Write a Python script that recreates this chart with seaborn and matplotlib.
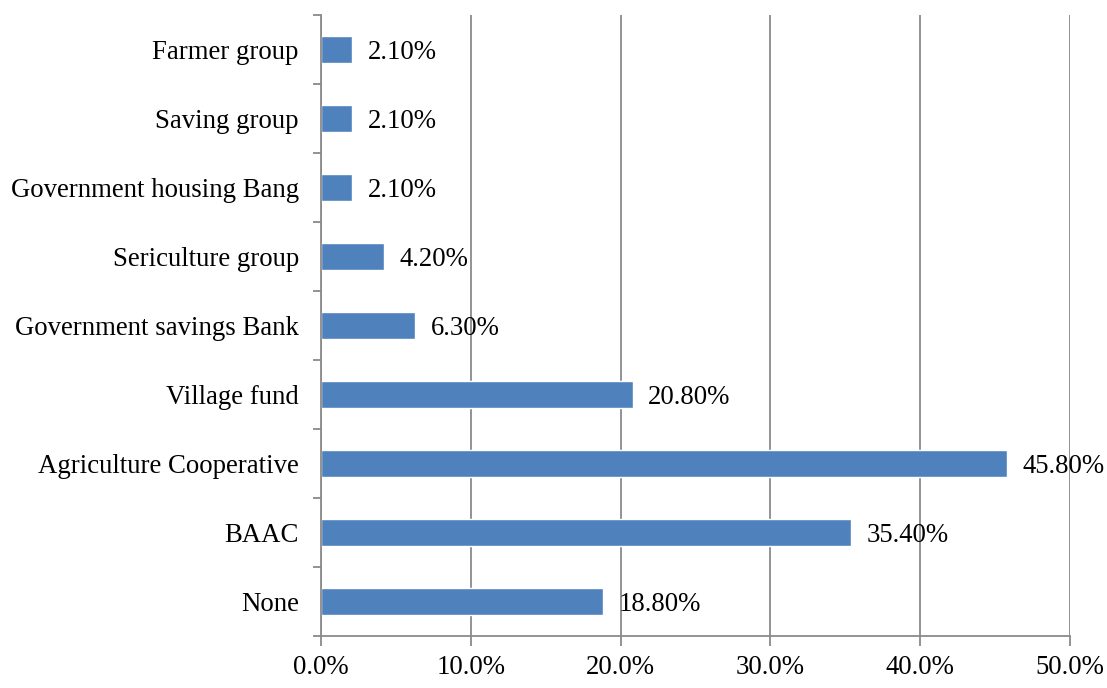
import pandas as pd
import seaborn as sns
import matplotlib.pyplot as plt
from matplotlib.ticker import FixedLocator, PercentFormatter

# Data (top to bottom as in the chart)
categories = [
    "Farmer group",
    "Saving group",
    "Government housing Bang",
    "Sericulture group",
    "Government savings Bank",
    "Village fund",
    "Agriculture Cooperative",
    "BAAC",
    "None",
]
values = [2.1, 2.1, 2.1, 4.2, 6.3, 20.8, 45.8, 35.4, 18.8]
x_ticks = [0, 10, 20, 30, 40, 50]

df = pd.DataFrame({"source": categories, "pct": values})

sns.set_style("white")
plt.rcParams["font.family"] = ["Liberation Serif", "DejaVu Serif"]
plt.rcParams["text.color"] = "black"
plt.rcParams["xtick.labelcolor"] = "black"
plt.rcParams["ytick.labelcolor"] = "black"

fig = plt.figure(figsize=(11.07, 6.88), dpi=100)
ax = fig.add_axes([0.29, 0.0756, 0.6766, 0.9024])

sns.barplot(data=df, x="pct", y="source", orient="h", color="#4F81BD",
            saturation=1, width=0.4, ax=ax)

gray = "#8a8a8a"
ax.set_xlim(0, 50)
ax.set_ylim(len(categories) - 0.5, -0.5)
ax.set_xticks(x_ticks)
ax.xaxis.set_major_formatter(PercentFormatter(decimals=1))
ax.grid(axis="x", color=gray, linewidth=1.3)
ax.set_axisbelow(True)
ax.set_xlabel("")
ax.set_ylabel("")

for s in ["top", "right"]:
    ax.spines[s].set_visible(False)
for s in ["left", "bottom"]:
    ax.spines[s].set_color(gray)
    ax.spines[s].set_linewidth(1.3)

# x ticks point down, y ticks sit on the category boundaries
ax.tick_params(axis="x", direction="out", length=7, width=1.3, color=gray,
               labelsize=19.3, pad=7, bottom=True)
ax.tick_params(axis="y", which="major", length=0, labelsize=19.3, pad=16)
ax.yaxis.set_minor_locator(FixedLocator([i - 0.5 for i in range(len(categories) + 1)]))
ax.tick_params(axis="y", which="minor", direction="out", length=6, width=1.3,
               color=gray, left=True)

for i, v in enumerate(values):
    ax.text(v + 1.05, i, f"{v:.2f}%", va="center_baseline", ha="left",
            fontsize=19.3)

fig.savefig("out.png", dpi=100)
